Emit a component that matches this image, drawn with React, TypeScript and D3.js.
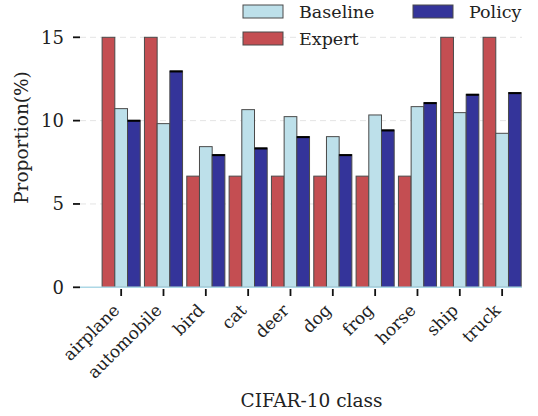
import React from 'react';
import * as d3 from 'd3';

const categories = ['airplane', 'automobile', 'bird', 'cat', 'deer', 'dog', 'frog', 'horse', 'ship', 'truck'];
const expert = [15, 15, 6.67, 6.67, 6.67, 6.67, 6.67, 6.67, 15, 15];
const baseline = [10.72, 9.82, 8.44, 10.66, 10.24, 9.04, 10.34, 10.84, 10.48, 9.24];
const policy = [10.02, 12.98, 7.96, 8.36, 9.04, 7.96, 9.44, 11.08, 11.58, 11.68];
const yTicks = [0, 5, 10, 15];

const seriesNames = ['Expert', 'Baseline', 'Policy'];
const seriesValues = [expert, baseline, policy];
const colors: Record<string, string> = { Expert: '#c44e52', Baseline: '#bde0ea', Policy: '#34349a' };

const W = 538;
const H = 416;
const FONT = '"DejaVu Serif", serif';

export default function App() {
  const y = d3.scaleLinear().domain([0, 15]).range([287.3, 37.3]);

  // outer groups and the three bars in each
  const x = d3.scaleBand<string>()
    .domain(categories)
    .range([100, 100 + 10 * 42.33])
    .paddingInner(0.1)
    .paddingOuter(0.05);
  const xs = d3.scaleBand<string>().domain(seriesNames).range([0, x.bandwidth()]);

  const axisLeft = 80;
  const axisRight = 522;

  return (
    <svg width={W} height={H} style={{ position: 'absolute', left: 0, top: 0, background: 'white' }}
      fontFamily={FONT}>
      {/* grid */}
      {yTicks.filter(t => t > 0).map(t => (
        <line key={'g' + t} x1={axisLeft} x2={axisRight} y1={y(t)} y2={y(t)}
          stroke="#e4e4e4" strokeWidth={1} strokeDasharray="6,4" />
      ))}

      {/* bars */}
      {categories.map((c, i) => (
        <g key={c} transform={`translate(${x(c)},0)`}>
          {seriesNames.map((s, k) => {
            const v = seriesValues[k][i];
            const bx = xs(s)!;
            return (
              <g key={s}>
                <rect x={bx} y={y(v)} width={xs.bandwidth()} height={y(0) - y(v)}
                  fill={colors[s]} stroke="#4a4a4a" strokeWidth={1} />
                {s === 'Policy' && (
                  <rect x={bx} y={y(v) - 0.5} width={xs.bandwidth()} height={2} fill="#000" />
                )}
              </g>
            );
          })}
        </g>
      ))}

      {/* zero line */}
      <line x1={axisLeft} x2={axisRight} y1={y(0)} y2={y(0)} stroke="#add8e6" strokeWidth={1.5} />

      {/* y ticks */}
      {yTicks.map(t => (
        <g key={'y' + t}>
          <line x1={73} x2={80} y1={y(t)} y2={y(t)} stroke="#111" strokeWidth={1.8} />
          <text x={64} y={y(t)} dy="0.35em" textAnchor="end" fontSize={18} fill="#222">{t}</text>
        </g>
      ))}

      {/* x ticks */}
      {categories.map(c => {
        const cx = x(c)! + x.bandwidth() / 2;
        return (
          <g key={'x' + c}>
            <line x1={cx} x2={cx} y1={289} y2={296} stroke="#111" strokeWidth={1.8} />
            <text transform={`translate(${cx - 9},${303}) rotate(-45)`} textAnchor="end"
              fontSize={17} fill="#222" dy="0.7em">{c}</text>
          </g>
        );
      })}

      {/* axis titles */}
      <text transform={`translate(28,137.5) rotate(-90)`} textAnchor="middle" fontSize={18.5} fill="#222">Proportion(%)</text>
      <text x={311.5} y={407} textAnchor="middle" fontSize={18.5} fill="#222">CIFAR-10 class</text>

      {/* legend */}
      {[
        { name: 'Baseline', x: 243, y: 5 },
        { name: 'Expert', x: 243, y: 32 },
        { name: 'Policy', x: 413, y: 5 },
      ].map(d => (
        <g key={d.name}>
          <rect x={d.x} y={d.y} width={40} height={13} fill={colors[d.name]} stroke="#4a4a4a" strokeWidth={1} />
          <text x={d.x + 56} y={d.y + 13} fontSize={17.5} fill="#222">{d.name}</text>
        </g>
      ))}
    </svg>
  );
}
